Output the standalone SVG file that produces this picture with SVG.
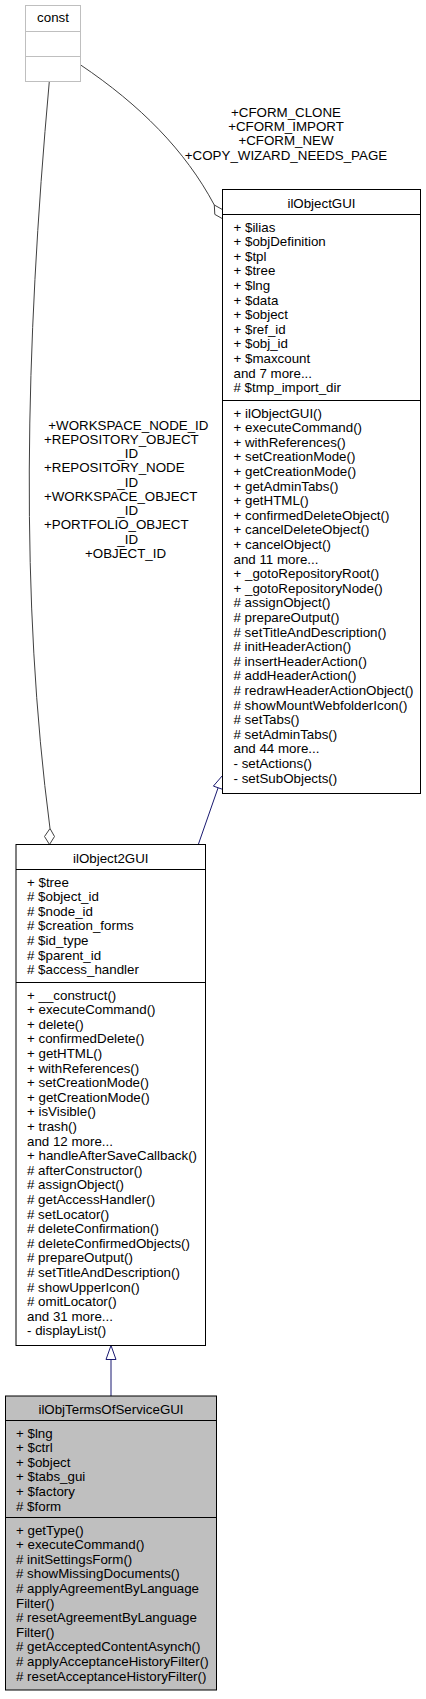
<svg xmlns="http://www.w3.org/2000/svg" width="426" height="1699" viewBox="0 0 426 1699">
<style>
text{font-family:"Liberation Sans",Arial,Helvetica,sans-serif;font-size:13.33px;fill:#000}
.t{text-anchor:middle}
.box{fill:#fff;stroke:#000;stroke-width:1}
.cur{fill:#bfbfbf;stroke:#000;stroke-width:1}
.ext{fill:#fff;stroke:#bfbfbf;stroke-width:1}
.sep{stroke:#000;stroke-width:1}
.sepg{stroke:#bfbfbf;stroke-width:1}
.comp{fill:none;stroke:#404040;stroke-width:1}
.compd{fill:#fff;stroke:#404040;stroke-width:1}
.gen{fill:none;stroke:#191970;stroke-width:1}
.gend{fill:#fff;stroke:#191970;stroke-width:1}
</style>
<rect width="426" height="1699" fill="#fff"/>
<g id="connectors">
<path class="comp" d="M80.7,65 C140,105 185,150 214.3,205"/>
<polygon class="compd" points="214.3,205 222.5,209.6 223,219 214.8,214.4"/>
<path class="comp" d="M49.3,81.5 C25,350 20,600 50,828.5"/>
<polygon class="compd" points="50,828.5 54.5,836.5 49.5,844.5 44.5,836.5"/>
<path class="gen" d="M198.3,844.5 L218.1,787.75"/>
<polygon class="gend" points="222.5,775.5 222.8,789.4 213.4,786.1"/>
<path class="gen" d="M111,1396 L111,1359.5"/>
<polygon class="gend" points="111,1345.5 116,1359.5 106,1359.5"/>
<text class="t"><tspan x="286" y="116.5">+CFORM_CLONE</tspan><tspan x="286" y="131">+CFORM_IMPORT</tspan><tspan x="286" y="145.4">+CFORM_NEW</tspan><tspan x="286" y="159.8">+COPY_WIZARD_NEEDS_PAGE</tspan></text>
<text><tspan x="48.3" y="429.5">+WORKSPACE_NODE_ID</tspan><tspan x="44" y="443.8">+REPOSITORY_OBJECT</tspan><tspan x="117.3" y="458">_ID</tspan><tspan x="44" y="472.3">+REPOSITORY_NODE</tspan><tspan x="117.3" y="486.5">_ID</tspan><tspan x="44" y="500.8">+WORKSPACE_OBJECT</tspan><tspan x="117.3" y="515">_ID</tspan><tspan x="44" y="529.3">+PORTFOLIO_OBJECT</tspan><tspan x="117.3" y="543.5">_ID</tspan><tspan x="85" y="557.8">+OBJECT_ID</tspan></text>
</g>
<g id="node-const">
<rect class="ext" x="25.5" y="5.5" width="55" height="76"/>
<line class="sepg" x1="25.5" y1="31.5" x2="80.5" y2="31.5"/>
<line class="sepg" x1="25.5" y1="56.5" x2="80.5" y2="56.5"/>
<text class="t" x="53" y="21.5">const</text>
</g>
<g id="node-ilObjectGUI">
<rect class="box" x="222.5" y="189.5" width="198" height="604"/>
<line class="sep" x1="222.5" y1="214.5" x2="420.5" y2="214.5"/>
<line class="sep" x1="222.5" y1="400.5" x2="420.5" y2="400.5"/>
<text class="t" x="321.5" y="207.5">ilObjectGUI</text>
<text>
<tspan x="233.5" y="231.5">+ $ilias</tspan>
<tspan x="233.5" y="246.1">+ $objDefinition</tspan>
<tspan x="233.5" y="260.7">+ $tpl</tspan>
<tspan x="233.5" y="275.3">+ $tree</tspan>
<tspan x="233.5" y="289.9">+ $lng</tspan>
<tspan x="233.5" y="304.5">+ $data</tspan>
<tspan x="233.5" y="319.1">+ $object</tspan>
<tspan x="233.5" y="333.7">+ $ref_id</tspan>
<tspan x="233.5" y="348.3">+ $obj_id</tspan>
<tspan x="233.5" y="362.9">+ $maxcount</tspan>
<tspan x="233.5" y="377.5">and 7 more...</tspan>
<tspan x="233.5" y="392.1"># $tmp_import_dir</tspan>
</text>
<text>
<tspan x="233.5" y="417.5">+ ilObjectGUI()</tspan>
<tspan x="233.5" y="432.1">+ executeCommand()</tspan>
<tspan x="233.5" y="446.7">+ withReferences()</tspan>
<tspan x="233.5" y="461.3">+ setCreationMode()</tspan>
<tspan x="233.5" y="475.9">+ getCreationMode()</tspan>
<tspan x="233.5" y="490.5">+ getAdminTabs()</tspan>
<tspan x="233.5" y="505.1">+ getHTML()</tspan>
<tspan x="233.5" y="519.7">+ confirmedDeleteObject()</tspan>
<tspan x="233.5" y="534.3">+ cancelDeleteObject()</tspan>
<tspan x="233.5" y="548.9">+ cancelObject()</tspan>
<tspan x="233.5" y="563.5">and 11 more...</tspan>
<tspan x="233.5" y="578.1">+ _gotoRepositoryRoot()</tspan>
<tspan x="233.5" y="592.7">+ _gotoRepositoryNode()</tspan>
<tspan x="233.5" y="607.3"># assignObject()</tspan>
<tspan x="233.5" y="621.9"># prepareOutput()</tspan>
<tspan x="233.5" y="636.5"># setTitleAndDescription()</tspan>
<tspan x="233.5" y="651.1"># initHeaderAction()</tspan>
<tspan x="233.5" y="665.7"># insertHeaderAction()</tspan>
<tspan x="233.5" y="680.3"># addHeaderAction()</tspan>
<tspan x="233.5" y="694.9"># redrawHeaderActionObject()</tspan>
<tspan x="233.5" y="709.5"># showMountWebfolderIcon()</tspan>
<tspan x="233.5" y="724.1"># setTabs()</tspan>
<tspan x="233.5" y="738.7"># setAdminTabs()</tspan>
<tspan x="233.5" y="753.3">and 44 more...</tspan>
<tspan x="233.5" y="767.9">- setActions()</tspan>
<tspan x="233.5" y="782.5">- setSubObjects()</tspan>
</text>
</g>
<g id="node-ilObject2GUI">
<rect class="box" x="16" y="844.5" width="189.5" height="501"/>
<line class="sep" x1="16" y1="869.5" x2="205.5" y2="869.5"/>
<line class="sep" x1="16" y1="982.5" x2="205.5" y2="982.5"/>
<text class="t" x="110.75" y="862.5">ilObject2GUI</text>
<text>
<tspan x="27" y="886.5">+ $tree</tspan>
<tspan x="27" y="901.1"># $object_id</tspan>
<tspan x="27" y="915.7"># $node_id</tspan>
<tspan x="27" y="930.3"># $creation_forms</tspan>
<tspan x="27" y="944.9"># $id_type</tspan>
<tspan x="27" y="959.5"># $parent_id</tspan>
<tspan x="27" y="974.1"># $access_handler</tspan>
</text>
<text>
<tspan x="27" y="999.5">+ __construct()</tspan>
<tspan x="27" y="1014.1">+ executeCommand()</tspan>
<tspan x="27" y="1028.7">+ delete()</tspan>
<tspan x="27" y="1043.3">+ confirmedDelete()</tspan>
<tspan x="27" y="1057.9">+ getHTML()</tspan>
<tspan x="27" y="1072.5">+ withReferences()</tspan>
<tspan x="27" y="1087.1">+ setCreationMode()</tspan>
<tspan x="27" y="1101.7">+ getCreationMode()</tspan>
<tspan x="27" y="1116.3">+ isVisible()</tspan>
<tspan x="27" y="1130.9">+ trash()</tspan>
<tspan x="27" y="1145.5">and 12 more...</tspan>
<tspan x="27" y="1160.1">+ handleAfterSaveCallback()</tspan>
<tspan x="27" y="1174.7"># afterConstructor()</tspan>
<tspan x="27" y="1189.3"># assignObject()</tspan>
<tspan x="27" y="1203.9"># getAccessHandler()</tspan>
<tspan x="27" y="1218.5"># setLocator()</tspan>
<tspan x="27" y="1233.1"># deleteConfirmation()</tspan>
<tspan x="27" y="1247.7"># deleteConfirmedObjects()</tspan>
<tspan x="27" y="1262.3"># prepareOutput()</tspan>
<tspan x="27" y="1276.9"># setTitleAndDescription()</tspan>
<tspan x="27" y="1291.5"># showUpperIcon()</tspan>
<tspan x="27" y="1306.1"># omitLocator()</tspan>
<tspan x="27" y="1320.7">and 31 more...</tspan>
<tspan x="27" y="1335.3">- displayList()</tspan>
</text>
</g>
<g id="node-ilObjTermsOfServiceGUI">
<rect class="cur" x="5.5" y="1396" width="211" height="294"/>
<line class="sep" x1="5.5" y1="1420.5" x2="216.5" y2="1420.5"/>
<line class="sep" x1="5.5" y1="1517.5" x2="216.5" y2="1517.5"/>
<text class="t" x="111" y="1413.5">ilObjTermsOfServiceGUI</text>
<text>
<tspan x="16" y="1437.5">+ $lng</tspan>
<tspan x="16" y="1452.1">+ $ctrl</tspan>
<tspan x="16" y="1466.7">+ $object</tspan>
<tspan x="16" y="1481.3">+ $tabs_gui</tspan>
<tspan x="16" y="1495.9">+ $factory</tspan>
<tspan x="16" y="1510.5"># $form</tspan>
</text>
<text>
<tspan x="16" y="1534.5">+ getType()</tspan>
<tspan x="16" y="1549.1">+ executeCommand()</tspan>
<tspan x="16" y="1563.7"># initSettingsForm()</tspan>
<tspan x="16" y="1578.3"># showMissingDocuments()</tspan>
<tspan x="16" y="1592.9"># applyAgreementByLanguage</tspan>
<tspan x="16" y="1607.5">Filter()</tspan>
<tspan x="16" y="1622.1"># resetAgreementByLanguage</tspan>
<tspan x="16" y="1636.7">Filter()</tspan>
<tspan x="16" y="1651.3"># getAcceptedContentAsynch()</tspan>
<tspan x="16" y="1665.9"># applyAcceptanceHistoryFilter()</tspan>
<tspan x="16" y="1680.5"># resetAcceptanceHistoryFilter()</tspan>
</text>
</g>
</svg>
